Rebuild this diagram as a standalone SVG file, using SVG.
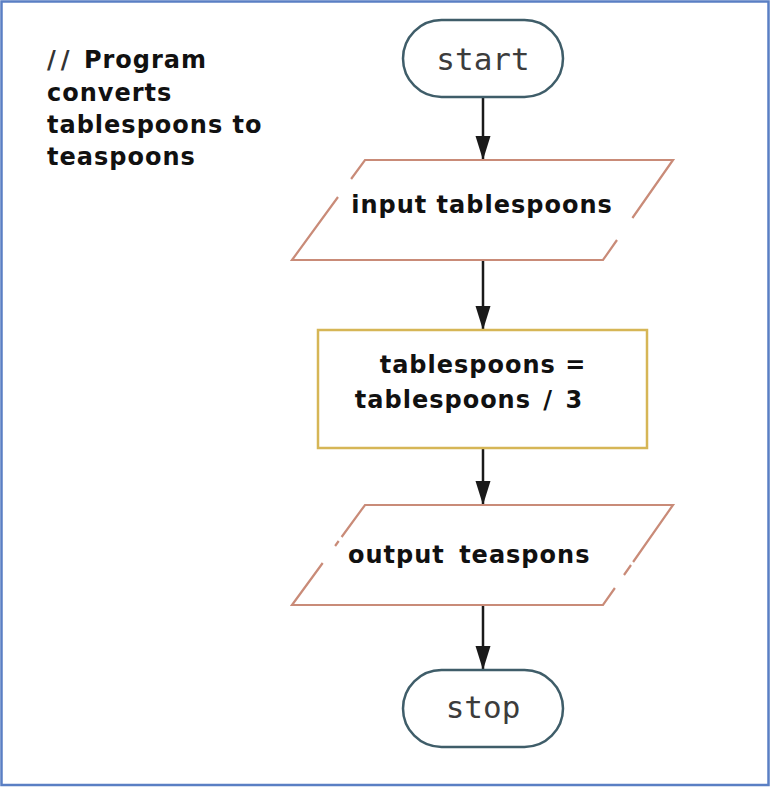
<svg xmlns="http://www.w3.org/2000/svg" width="771" height="787" viewBox="0 0 771 787">
  <style>
    .term { fill: #ffffff; stroke: #3f5d69; stroke-width: 2.5; }
    .io { fill: none; stroke: #c98b78; stroke-width: 2.2; stroke-linecap: butt; }
    .iofill { fill: #ffffff; stroke: none; }
    .proc { fill: #ffffff; stroke: #d6b656; stroke-width: 2.5; }
    .mono { font-family: "DejaVu Sans Mono", "Liberation Mono", monospace; font-size: 31px; fill: #3c3c3c; text-anchor: middle; }
    .lbl { font-family: "DejaVu Sans", "Liberation Sans", sans-serif; font-size: 24px; font-weight: bold; fill: #111111; letter-spacing: 1px; }
    .mid { text-anchor: middle; }
    .conn { stroke: #1a1a1a; stroke-width: 2.5; fill: none; }
  </style>
  <defs>
    <marker id="arrow" markerUnits="userSpaceOnUse" markerWidth="26" markerHeight="18" refX="24" refY="8" orient="auto">
      <path d="M0,0.5 L24,8 L0,15.5 Z" fill="#1a1a1a"/>
    </marker>
  </defs>
  <rect x="0" y="0" width="771" height="787" fill="#ffffff"/>
  <rect x="1.5" y="1.5" width="767" height="783.5" fill="none" stroke="#5a7fc4" stroke-width="2.5"/>

  <g id="comment">
    <text class="lbl" x="47" y="68"><tspan fill="#333333">/</tspan><tspan fill="#333333" dx="4">/</tspan><tspan word-spacing="4"> Program</tspan></text>
    <text class="lbl" x="47" y="101">converts</text>
    <text class="lbl" x="47" y="133">tablespoons to</text>
    <text class="lbl" x="47" y="165">teaspoons</text>
  </g>

  <g id="connectors">
    <line class="conn" x1="483" y1="97" x2="483" y2="160" marker-end="url(#arrow)"/>
    <line class="conn" x1="483" y1="260" x2="483" y2="330" marker-end="url(#arrow)"/>
    <line class="conn" x1="483" y1="448" x2="483" y2="505" marker-end="url(#arrow)"/>
    <line class="conn" x1="483" y1="605" x2="483" y2="670" marker-end="url(#arrow)"/>
  </g>

  <g id="start">
    <rect class="term" x="403" y="20" width="160" height="77" rx="38.5" ry="38.5"/>
    <text class="mono" x="483" y="70">start</text>
  </g>

  <g id="input">
    <polygon class="iofill" points="365,160 673,160 603,260 292,260"/>
    <path class="io" d="M351.1,179 L365,160 L673,160 L632.4,218 M617,240 L603,260 L292,260 L338,197"/>
    <text class="lbl mid" x="482" y="213">input tablespoons</text>
  </g>

  <g id="process">
    <rect class="proc" x="318" y="330" width="329" height="118"/>
    <text class="lbl mid" x="483" y="373">tablespoons =</text>
    <text class="lbl mid" x="469" y="408" word-spacing="3">tablespoons / 3</text>
  </g>

  <g id="output">
    <polygon class="iofill" points="365,505 673,505 603,605 292,605"/>
    <path class="io" d="M341.6,537 L365,505 L673,505 L633.1,562 M631,565 L624,575 M614.9,588 L603,605 L292,605 L322.7,563 M338.7,541 L335.1,546"/>
    <text class="lbl" x="348" y="563" word-spacing="5">output teaspons</text>
  </g>

  <g id="stop">
    <rect class="term" x="403" y="670" width="160" height="77" rx="38.5" ry="38.5"/>
    <text class="mono" x="483" y="718">stop</text>
  </g>
</svg>
